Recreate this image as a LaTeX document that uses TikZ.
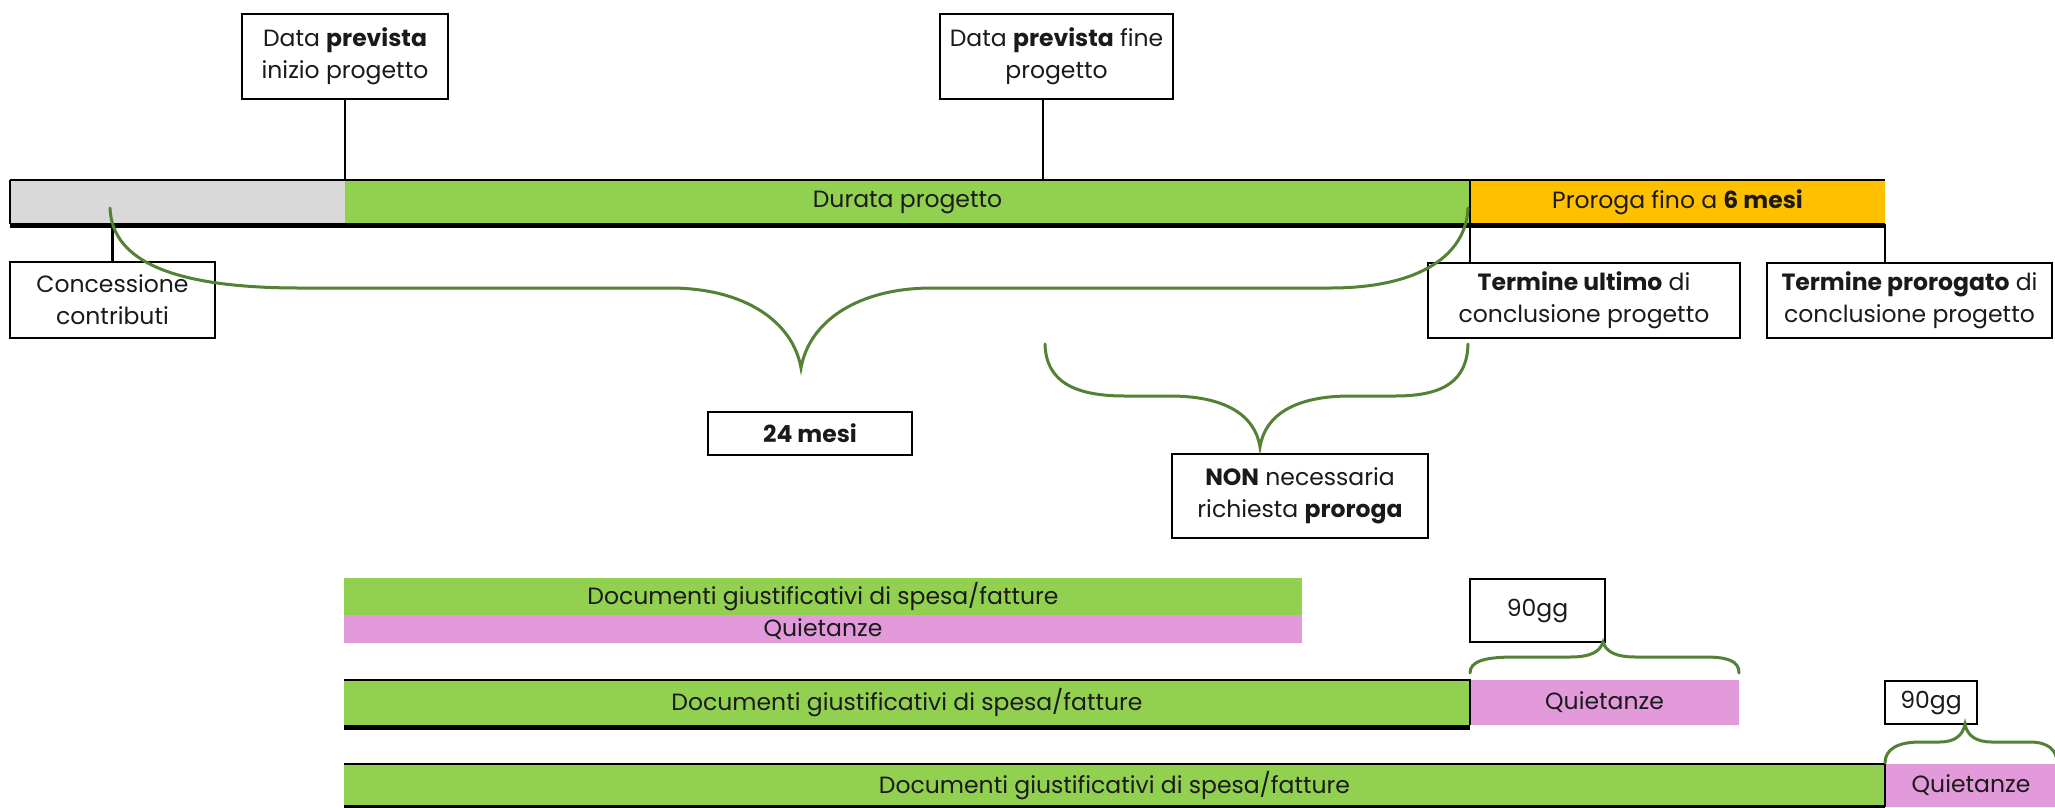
\documentclass[tikz,border=0pt]{standalone}
\usepackage{fontspec}
\setmainfont{Poppins}
\usetikzlibrary{calc}
\definecolor{barGreen}{HTML}{92D050}
\definecolor{barGrey}{HTML}{D9D9D9}
\definecolor{barOrange}{HTML}{FFC000}
\definecolor{barPink}{HTML}{E29ADB}
\definecolor{braceGreen}{HTML}{538135}
\definecolor{txt}{HTML}{1A1A1A}
\begin{document}
\begin{tikzpicture}[x=1pt,y=-1pt,
  every node/.style={font=\fontsize{23.5}{32}\selectfont, text=txt},
  labelbox/.style={draw=black, line width=2.5pt, fill=white, align=center, inner sep=0pt},
  seg/.style={inner sep=0pt, outer sep=0pt, anchor=north west},
  conn/.style={draw=black, line width=2.5pt},
  thinedge/.style={draw=black, line width=2.5pt},
  thickedge/.style={draw=black, line width=5pt},
  curly/.style={draw=braceGreen, line width=3pt, line cap=round}]

\useasboundingbox (0,0) rectangle (2055,807);
\fill[white] (0,0) rectangle (2055,807);

% ---------- main timeline bar ----------
\node[seg, fill=barGrey,   minimum width=335pt,  minimum height=44pt] (grey)   at (10,180) {};
\node[seg, fill=barGreen,  minimum width=1125pt, minimum height=44pt] (green)  at (345,180) {Durata progetto};
\node[seg, fill=barOrange, minimum width=415pt,  minimum height=44pt] (orange) at (1470,180) {Proroga fino a \textbf{6 mesi}};
\draw[thinedge] (grey.north west) -- (orange.north east);
\draw[thinedge] (grey.north west) -- (grey.south west);
\draw[thinedge] (green.north east) -- (green.south east);
\draw[thickedge] ([yshift=-1pt]grey.south west) -- ([yshift=-1pt]orange.south east);

% ---------- label boxes ----------
\node[labelbox, minimum width=206pt, minimum height=85pt] (b1) at (345,56.5) {Data \textbf{prevista}\\inizio progetto};
\node[labelbox, minimum width=233pt, minimum height=85pt] (b2) at (1056.5,56.5) {Data \textbf{prevista} fine\\progetto};
\node[labelbox, minimum width=205pt, minimum height=76pt] (c1) at (112.5,300) {Concessione\\contributi};
\node[labelbox, minimum width=312pt, minimum height=75pt] (t1) at (1584,300.5) {\textbf{Termine ultimo} di\\conclusione progetto};
\node[labelbox, minimum width=285pt, minimum height=75pt] (t2) at (1909.5,300.5) {\textbf{Termine prorogato} di\\conclusione progetto};
\node[labelbox, minimum width=204pt, minimum height=43pt] (m24) at (810,433.5) {\textbf{24 mesi}};
\node[labelbox, minimum width=256pt, minimum height=84pt] (non) at (1300,496) {\textbf{NON} necessaria\\richiesta \textbf{proroga}};

% ---------- connectors ----------
\coordinate (p2) at (1043,99);
\draw[conn] (b1.south) -- (b1.south |- green.north);
\draw[conn] (p2) -- (p2 |- green.north);
\draw[conn] (c1.north) -- (c1.north |- grey.south);
\draw[conn] (green.south east) -- (green.south east |- t1.north);
\draw[conn] (orange.south east) -- (orange.south east |- t2.north);

% ---------- big brace (24 mesi) ----------
\coordinate (bbL) at (110,208);
\coordinate (bbT) at (801,368);
\coordinate (bbR) at (1468,208);
\draw[curly] (bbL) .. controls (112,262) and (175,288) .. (300,288) -- (670,288)
  .. controls (745,288) and (793,322) .. (bbT)
  .. controls (809,322) and (857,288) .. (932,288) -- (1330,288)
  .. controls (1420,288) and (1466,255) .. (bbR);

% ---------- small brace (NON necessaria) ----------
\coordinate (sbL) at (1045,344);
\coordinate (sbT) at (1260,447);
\coordinate (sbR) at (1468,344);
\draw[curly] (sbL) .. controls (1046,382) and (1075,396) .. (1125,396) -- (1170,396)
  .. controls (1225,396) and (1255,415) .. (sbT)
  .. controls (1265,415) and (1295,396) .. (1350,396) -- (1395,396)
  .. controls (1445,396) and (1467,380) .. (sbR);

% ---------- bottom bars ----------
\node[seg, fill=barGreen, minimum width=958pt, minimum height=37pt] (aG) at (344,578) {Documenti giustificativi di spesa/fatture};
\node[seg, fill=barPink,  minimum width=958pt, minimum height=28pt] (aP) at (344,615) {Quietanze};

\node[seg, fill=barGreen, minimum width=1126pt, minimum height=45pt] (bG) at (344,680) {Documenti giustificativi di spesa/fatture};
\node[seg, fill=barPink,  minimum width=269pt,  minimum height=45pt] (bP) at (1470,680) {Quietanze};
\draw[thinedge] (bG.north west) -- (bG.north east) -- (bG.south east);
\draw[thickedge] ([yshift=-2pt]bG.south west) -- ([yshift=-2pt]bG.south east);

\node[seg, fill=barGreen, minimum width=1541pt, minimum height=43pt] (cG) at (344,764) {Documenti giustificativi di spesa/fatture};
\node[seg, fill=barPink,  minimum width=172pt,  minimum height=43pt] (cP) at (1885,764) {Quietanze};
\draw[thinedge] (cG.north west) -- (cG.north east) -- (cG.south east);
\draw[thickedge] (cG.south west) -- (cG.south east);

% ---------- 90gg boxes and braces ----------
\node[labelbox, minimum width=135pt, minimum height=63pt] (g1) at (1537.5,610.5) {90gg};
\node[labelbox, minimum width=92pt,  minimum height=43pt] (g2) at (1931,702.5) {90gg};

\coordinate (q1L) at (1470,673);
\coordinate (q1T) at (1603,642);
\coordinate (q1R) at (1739,673);
\draw[curly] (q1L) .. controls (1470,661) and (1485,657) .. (1515,657) -- (1570,657)
  .. controls (1590,657) and (1600,652) .. (q1T)
  .. controls (1606,652) and (1616,657) .. (1636,657) -- (1705,657)
  .. controls (1728,657) and (1739,661) .. (q1R);

\coordinate (q2L) at (1885,763);
\coordinate (q2T) at (1965,724);
\coordinate (q2R) at (2057,763);
\draw[curly] (q2L) .. controls (1885,749) and (1898,742) .. (1920,742) -- (1940,742)
  .. controls (1955,742) and (1963,735) .. (q2T)
  .. controls (1967,735) and (1975,742) .. (1992,742) -- (2030,742)
  .. controls (2048,742) and (2057,750) .. (q2R);
\end{tikzpicture}
\end{document}
